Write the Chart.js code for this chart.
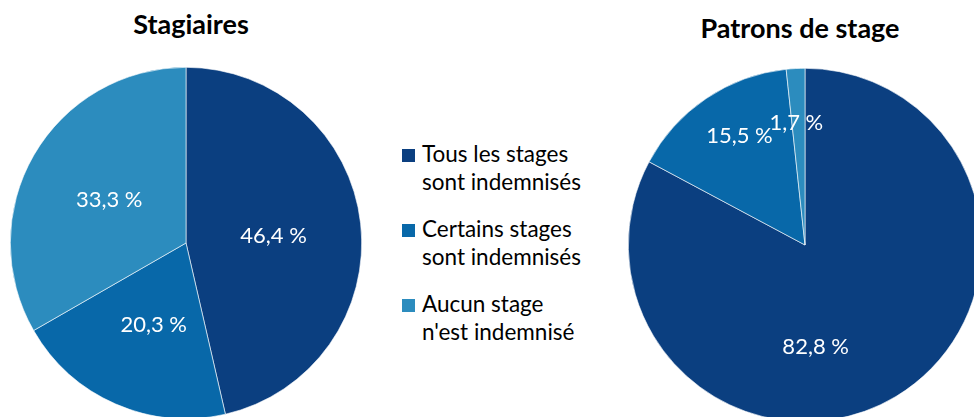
<!DOCTYPE html>
<html>
<head>
<meta charset="utf-8">
<script src="https://cdn.jsdelivr.net/npm/chart.js@4/dist/chart.umd.min.js"></script>
<style>
  html, body { margin: 0; padding: 0; background: #fff; }
  body { width: 974px; height: 417px; overflow: hidden; position: relative; font-family: Lato, sans-serif; }
  .title { position: absolute; font-weight: bold; font-size: 27px; color: #000; transform: translateX(-50%); white-space: nowrap; }
  .box { position: absolute; }
  #legend { position: absolute; left: 402px; top: 140px; font-size: 22.5px; color: #000; }
  .item { position: relative; padding-left: 20px; line-height: 28px; margin-bottom: 19px; }
  .item span.sw { position: absolute; left: 0; top: 9px; width: 13px; height: 13px; }
</style>
</head>
<body>
<div class="title" style="left:191px; top:7px;">Stagiaires</div>
<div class="title" style="left:800px; top:11px;">Patrons de stage</div>
<div class="box" style="left:10px; top:67px; width:352px; height:352px;"><canvas id="pieLeft"></canvas></div>
<div class="box" style="left:628px; top:68px; width:354px; height:354px;"><canvas id="pieRight"></canvas></div>
<div id="legend"></div>

<script>
// data
const categories = ["Tous les stages sont indemnisés", "Certains stages sont indemnisés", "Aucun stage n'est indemnisé"];
const legendLines = [["Tous les stages", "sont indemnisés"], ["Certains stages", "sont indemnisés"], ["Aucun stage", "n'est indemnisé"]];
const stagiaires = [46.4, 20.3, 33.3];
const patrons = [82.8, 15.5, 1.7];
const colors = ["#0b3f80", "#0868a9", "#2c8cbe"];

// draws "46,4 %" style labels inside slices
const sliceLabels = {
   id: "sliceLabels",
   afterDatasetsDraw(chart, args, opts) {
      const ctx = chart.ctx;
      const meta = chart.getDatasetMeta(0);
      const values = chart.data.datasets[0].data;
      ctx.save();
      ctx.fillStyle = "#fff";
      ctx.font = "22px Lato";
      ctx.textAlign = "center";
      ctx.textBaseline = "middle";
      meta.data.forEach((arc, i) => {
         const p = (opts.place && opts.place[i]) || [0.5, 0];
         const mid = (arc.startAngle + arc.endAngle) / 2 + p[1] * Math.PI / 180;
         const r = arc.outerRadius * p[0];
         const x = arc.x + Math.cos(mid) * r;
         const y = arc.y + Math.sin(mid) * r;
         ctx.fillText(values[i].toFixed(1).replace(".", ",") + " %", x, y);
      });
      ctx.restore();
   },
};

function makePie(id, values, place) {
   new Chart(document.getElementById(id), {
      type: "pie",
      data: {
         labels: categories,
         datasets: [{
            data: values,
            backgroundColor: colors,
            borderColor: "#fff",
            borderWidth: 0.6,
         }],
      },
      options: {
         responsive: true,
         maintainAspectRatio: false,
         animation: false,
         layout: { padding: 0 },
         plugins: {
            legend: { display: false },
            tooltip: { enabled: false },
            sliceLabels: { place: place },
         },
      },
      plugins: [sliceLabels],
   });
}

makePie("pieLeft", stagiaires, [[0.5, 2], [0.5, -2], [0.5, -1]]);
makePie("pieRight", patrons, [[0.58, 25], [0.72, 3], [0.69, -1]]);

// legend built from the categories
const legend = document.getElementById("legend");
legendLines.forEach((lines, i) => {
   const item = document.createElement("div");
   item.className = "item";
   item.innerHTML = '<span class="sw" style="background:' + colors[i] + '"></span>' + lines.join("<br>");
   legend.appendChild(item);
});
</script>
</body>
</html>
